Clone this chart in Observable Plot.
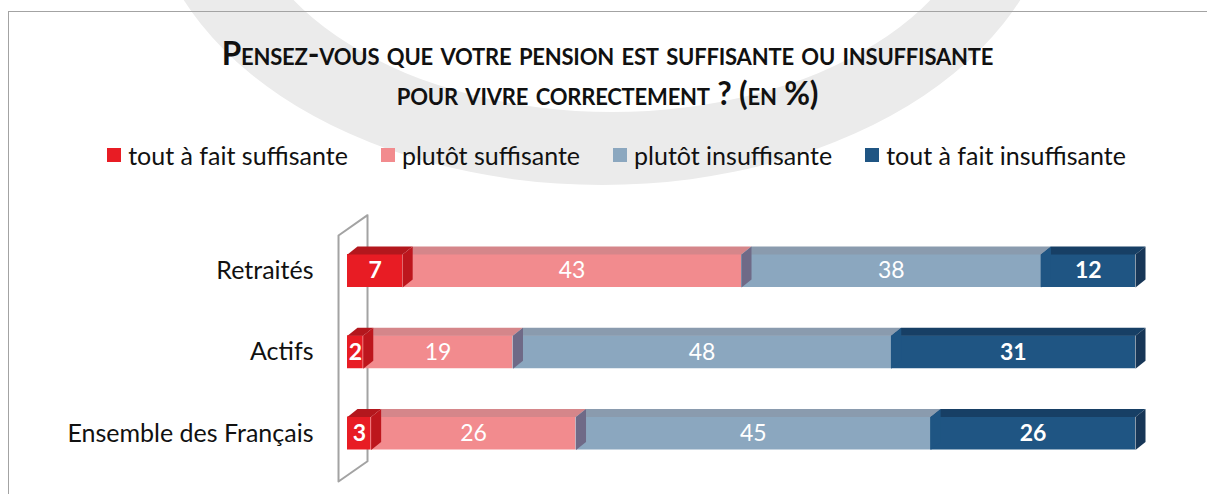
<!DOCTYPE html>
<html>
<head>
<meta charset="utf-8">
<script src="https://cdn.jsdelivr.net/npm/d3@7"></script>
<script src="https://cdn.jsdelivr.net/npm/@observablehq/plot@0.6"></script>
<style>
  html, body { margin: 0; padding: 0; background: #fff; }
  #wrap { position: relative; width: 1207px; height: 494px; overflow: hidden; font-family: Lato, "Noto Sans", sans-serif; color: #111; }
  #wm { position: absolute; left: 0; top: 0; }
  #frame { position: absolute; left: 8px; top: 11px; right: -2px; bottom: -2px; border-top: 1.5px solid #a3a3a3; border-left: 1.5px solid #a3a3a3; }
  #title { position: absolute; top: 33px; left: 4px; width: 1207px; text-align: center; font-weight: bold; font-variant: small-caps; font-size: 31.5px; line-height: 40px; letter-spacing: -0.2px; }
  #legend { position: absolute; top: 139px; left: 13px; width: 1207px; height: 32px; display: flex; justify-content: center; align-items: center; gap: 33px; font-size: 25px; }
  #legend .it { display: flex; align-items: center; gap: 7px; }
  #legend .sw { width: 14px; height: 14px; display: inline-block; }
  #chart { position: absolute; top: 190px; left: 0; }
</style>
</head>
<body>
<div id="wrap">
  <svg id="wm" width="1207" height="494"><path fill="#ebebeb" fill-rule="evenodd" d=""></path></svg>
  <div id="frame"></div>
  <div id="title">Pensez-vous que votre pension est suffisante ou insuffisante<br>pour vivre correctement ? (en %)</div>
  <div id="legend"></div>
  <div id="chart"></div>
</div>
<script>
// ---- data ----
const categories = ["Retraités", "Actifs", "Ensemble des Français"];
const series = ["tout à fait suffisante", "plutôt suffisante", "plutôt insuffisante", "tout à fait insuffisante"];
const retraites = [7, 43, 38, 12];
const actifs = [2, 19, 48, 31];
const ensemble = [3, 26, 45, 26];
const rows = [retraites, actifs, ensemble];

// ---- styles ----
const frontColors = ["#e81c24", "#f28b8e", "#8ba7bf", "#1f5583"];
const topColors   = ["#b3171d", "#d5868a", "#8a9bae", "#173f65"];
const sideColors  = ["#bd161d", "#6f6a87", "#1f5583", "#173657"];
const boldSeries = [true, false, false, true];
const H = 0.203;     // half bar thickness (row units)
const DX = 1.27;     // depth offset (x units)
const DY = 0.0985;   // depth offset (row units)

// watermark (decorative background)
(function () {
  const e = (cx, cy, rx, ry) => `M${cx - rx},${cy}a${rx},${ry} 0 1,0 ${2 * rx},0a${rx},${ry} 0 1,0 ${-2 * rx},0Z`;
  document.querySelector("#wm path").setAttribute("d", e(602, -120, 455, 305) + e(612, -120, 372, 232));
})();

// legend
const legend = d3.select("#legend");
series.forEach((s, k) => {
  const it = legend.append("div").attr("class", "it");
  it.append("span").attr("class", "sw").style("background", frontColors[k]);
  it.append("span").text(s);
});

// build segments
const segs = [];
rows.forEach((vals, i) => {
  let acc = 0;
  vals.forEach((v, k) => {
    segs.push({row: i, k, value: v, x1: acc, x2: acc + v, id: `${i}-${k}`});
    acc += v;
  });
});
const tops = segs.flatMap(d => [
  {id: d.id, k: d.k, x: d.x1, y: d.row - H},
  {id: d.id, k: d.k, x: d.x2, y: d.row - H},
  {id: d.id, k: d.k, x: d.x2 + DX, y: d.row - H - DY},
  {id: d.id, k: d.k, x: d.x1 + DX, y: d.row - H - DY}
]);
const sides = segs.flatMap(d => [
  {id: d.id, k: d.k, x: d.x2, y: d.row - H},
  {id: d.id, k: d.k, x: d.x2 + DX, y: d.row - H - DY},
  {id: d.id, k: d.k, x: d.x2 + DX, y: d.row + H - DY},
  {id: d.id, k: d.k, x: d.x2, y: d.row + H}
]);
// back wall outline of the 3D plot area
const wallTop = -0.437, wallBottom = categories.length - 1 + 0.591, wallDX = 3.68, wallDY = 0.25;
const wall = [
  {x: -1.14, y: wallBottom}, {x: -1.14, y: wallTop},
  {x: -1.14 + wallDX, y: wallTop - wallDY}, {x: -1.14 + wallDX, y: wallBottom - wallDY},
  {x: -1.14, y: wallBottom}
];

const plot = Plot.plot({
  width: 1207,
  height: 304,
  marginLeft: 347,
  marginRight: 72,
  marginTop: 0,
  marginBottom: 0,
  style: {fontFamily: "Lato, 'Noto Sans', sans-serif", background: "transparent", overflow: "visible"},
  x: {domain: [0, 100], axis: null},
  y: {domain: [0, 2], range: [80.5, 243], axis: null},
  color: {type: "identity"},
  marks: [
    Plot.line(wall, {x: "x", y: "y", stroke: "#a3a3a3", strokeWidth: 2}),
    Plot.rect(segs, {x1: "x1", x2: "x2", y1: d => d.row - H, y2: d => d.row + H, fill: d => frontColors[d.k], inset: 0}),
    Plot.line(tops, {x: "x", y: "y", z: "id", fill: d => topColors[d.k], stroke: null, strokeWidth: 0}),
    Plot.line(sides, {x: "x", y: "y", z: "id", fill: d => sideColors[d.k], stroke: null, strokeWidth: 0}),
    Plot.text(segs.filter(d => boldSeries[d.k]), {x: d => (d.x1 + d.x2) / 2, y: "row", text: "value", fill: "white", fontSize: 23, fontWeight: "bold"}),
    Plot.text(segs.filter(d => !boldSeries[d.k]), {x: d => (d.x1 + d.x2) / 2, y: "row", text: "value", fill: "white", fontSize: 23}),
    Plot.axisY({ticks: [0, 1, 2], tickFormat: i => categories[i], tickSize: 0, tickPadding: 34, fontSize: 25, label: null, fill: "#111"})
  ]
});
document.getElementById("chart").appendChild(plot);
</script>
</body>
</html>
